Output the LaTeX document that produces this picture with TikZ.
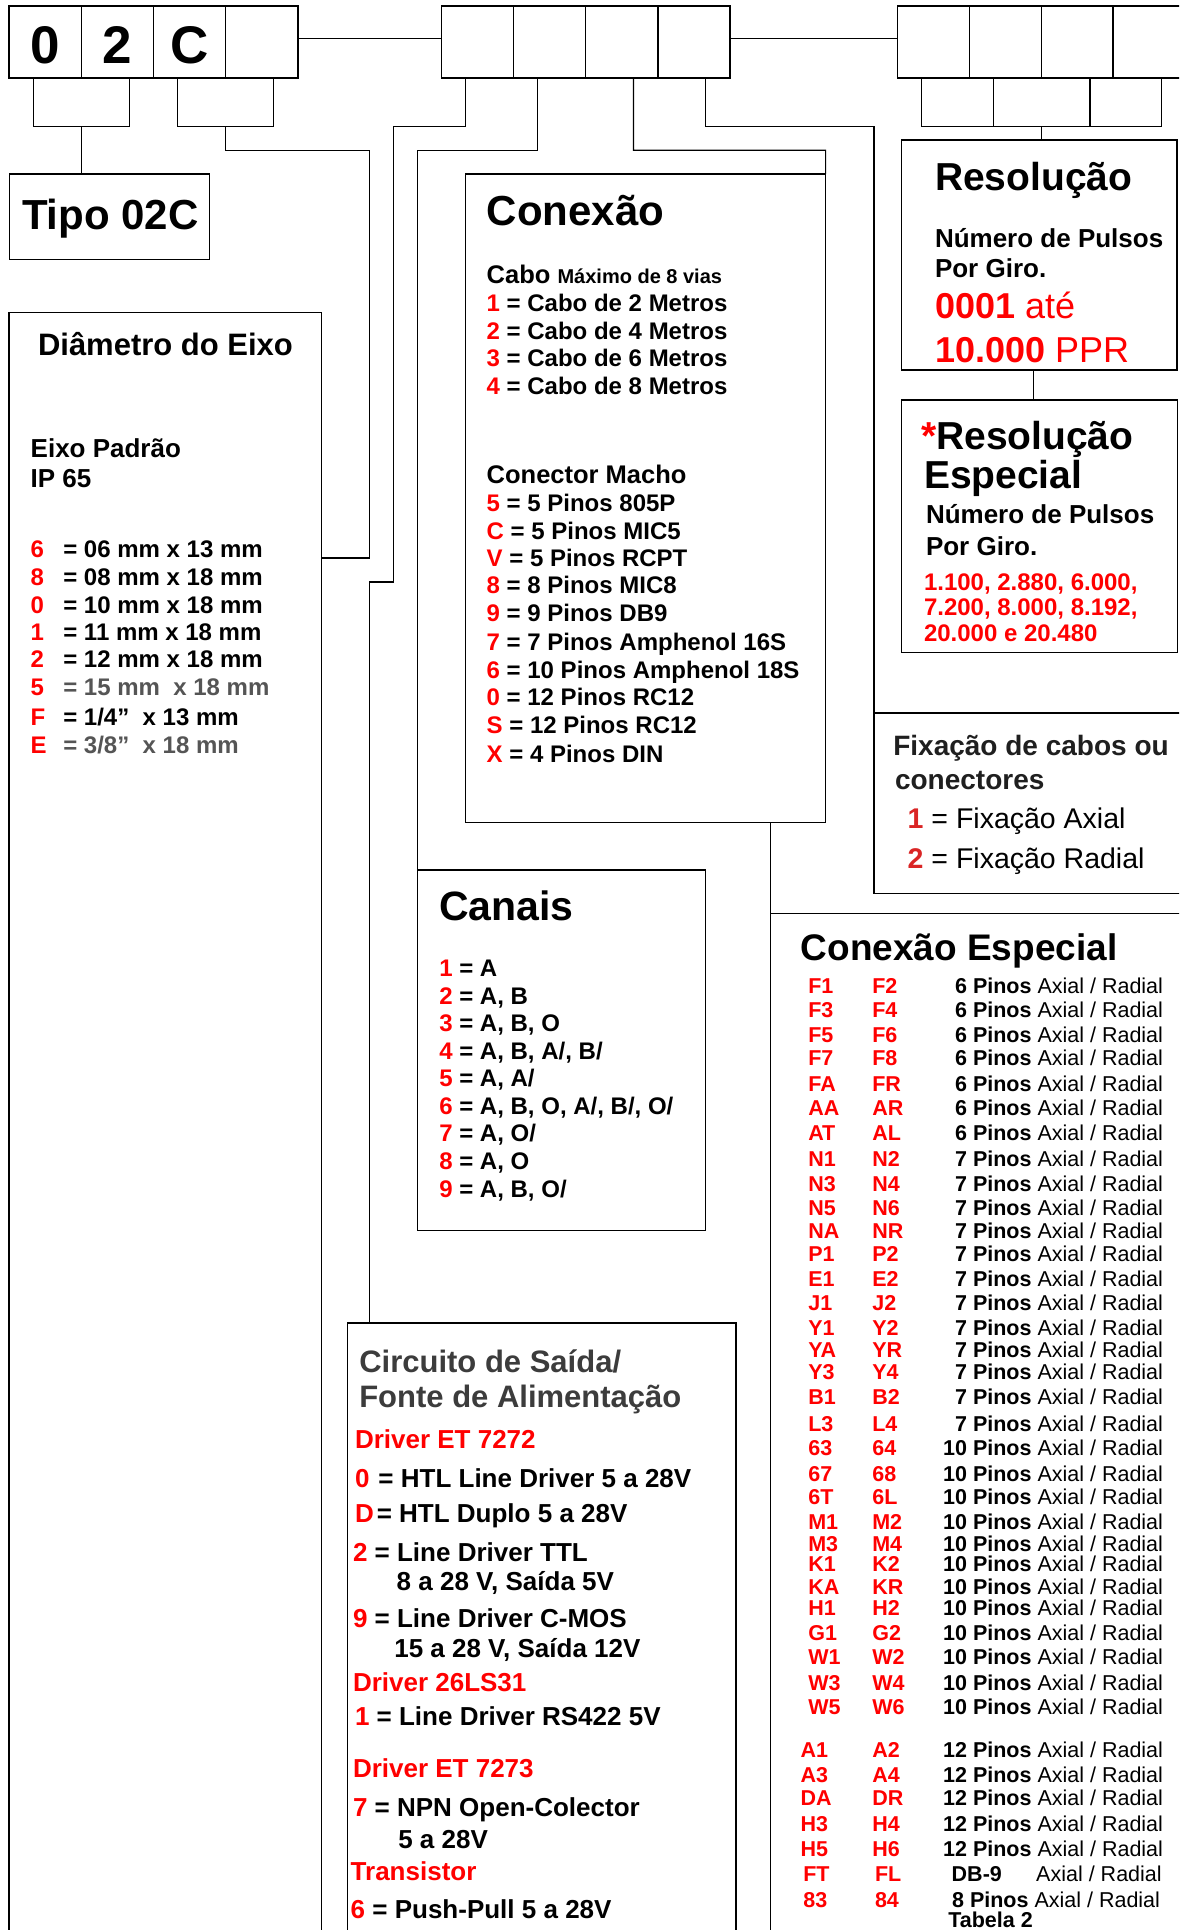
\documentclass[tikz,border=0pt]{standalone}
\usepackage{fontspec}
\setmainfont{Liberation Sans}
\usetikzlibrary{calc}
\definecolor{red0}{RGB}{255,0,0}
\definecolor{fixred}{RGB}{218,37,37}
\definecolor{headgray}{RGB}{60,60,60}
\definecolor{midgray}{RGB}{85,85,85}
\newcommand\fsz[1]{\fontsize{#1}{#1}\selectfont}
\begin{document}
\begin{tikzpicture}[x=1pt,y=-1pt,
  box/.style={draw, line width=1.4pt, inner sep=0pt, outer sep=0pt, anchor=north west},
  cell/.style={box, minimum width=72.2pt, minimum height=72pt},
  wire/.style={line width=1.2pt},
  t/.style={anchor=base west, inner sep=0pt, outer sep=0pt},
  te/.style={anchor=base east, inner sep=0pt, outer sep=0pt},
  digit/.style={anchor=base, inner sep=0pt, font=\fsz{53}\bfseries},
  row/.style={t, font=\fsz{24}\bfseries},
  crow/.style={t, font=\fsz{26}\bfseries},
  srow/.style={t, font=\fsz{21.5}\bfseries, text=red0}]
\clip (0,0) rectangle (1179,1930);
\fill[white] (0,0) rectangle (1179,1930);

% ---------- top code cells ----------
\node[cell] (g1a) at (9,6) {};
\node[cell] (g1b) at (81.2,6) {};
\node[cell] (g1c) at (153.4,6) {};
\node[cell] (g1d) at (225.6,6) {};
\node[digit] (d0) at (45.1,63) {0};
\node[digit] (d2) at (117.3,63) {2};
\node[digit] (dC) at (190,63) {C};

\node[cell] (g2a) at (441.3,6) {};
\node[cell] (g2b) at (513.5,6) {};
\node[cell] (g2c) at (585.7,6) {};
\node[cell] (g2d) at (657.9,6) {};

\node[cell, minimum width=71.9pt] (g3a) at (897.4,6) {};
\node[cell, minimum width=71.9pt] (g3b) at (969.3,6) {};
\node[cell, minimum width=71.9pt] (g3c) at (1041.2,6) {};
\node[cell, minimum width=71.9pt] (g3d) at (1113.1,6) {};

% ---------- boxes ----------
\node[box, minimum width=200.5pt, minimum height=85.3pt] (tipo) at (9.2,174) {};
\node[box, minimum width=312.7pt, minimum height=1700pt] (diam) at (9,312.3) {};
\node[box, minimum width=359.9pt, minimum height=648.7pt] (conex) at (465.7,174) {};
\node[box, minimum width=287.8pt, minimum height=360.5pt] (canais) at (417.5,870) {};
\node[box, minimum width=388.5pt, minimum height=700pt] (circ) at (347.5,1322.9) {};
\node[box, minimum width=275.4pt, minimum height=230pt] (resol) at (901.6,140) {};
\node[box, minimum width=276.4pt, minimum height=252.7pt] (resesp) at (901.3,400) {};
\node[box, minimum width=400pt, minimum height=180.5pt] (fix) at (874,713) {};
\node[box, minimum width=500pt, minimum height=1100pt] (conesp) at (770.3,913.3) {};

% ---------- connectors ----------
\draw[wire] ($(g1d.east)+(0,-3.7)$) -- ($(g2a.west)+(0,-3.7)$);
\draw[wire] ($(g2d.east)+(0,-3.7)$) -- ($(g3a.west)+(0,-3.7)$);

\coordinate (a1) at (33.3,78); \coordinate (a2) at (129.4,78); \coordinate (a3) at (81.5,126.7);
\draw[wire] (a1) |- (a2 |- a3) -- (a2);
\draw[wire] (a3) -- (a3 |- tipo.north);

\coordinate (b1) at (177.2,78); \coordinate (b2) at (273.6,78); \coordinate (b3) at (225.8,126.7);
\coordinate (b4) at (369.5,150.3); \coordinate (b5) at (369.5,558);
\draw[wire] (b1) |- (b2 |- b3) -- (b2);
\draw[wire] (b3) |- (b4) -- (b5) -- (b5 -| diam.east);

\coordinate (c1) at (465.7,78); \coordinate (c2) at (393.8,126.7); \coordinate (c3) at (369.3,582);
\draw[wire] (c1) |- (c2) |- (c3) -- (c3 |- circ.north);

\coordinate (e1) at (537.7,78); \coordinate (e2) at (417.5,150.3);
\draw[wire] (e1) |- (e2) -- (canais.north west);

\coordinate (f1) at (633.5,78); \coordinate (f2) at (825.6,150.3);
\draw[wire] (f1) |- (f2) -- (conex.north east);

\coordinate (h1) at (705.3,78); \coordinate (h2) at (874,126.7);
\draw[wire] (h1) |- (h2) -- (fix.north west);

\draw[wire] (conex.south -| conesp.north west) -- (conesp.north west);

\coordinate (k1) at (921.5,78); \coordinate (k2) at (993.3,78);
\coordinate (k3) at (1090,78); \coordinate (k4) at (1161.7,78);
\coordinate (km) at (1041.8,126.7);
\draw[wire] (k1) |- (k4 |- km) -- (k4);
\draw[wire] (k2) -- (k2 |- km);
\draw[wire] (k3) -- (k3 |- km);
\draw[wire] (km) -- (km |- resol.north);
\coordinate (r1) at (1033.8,370);
\draw[wire] (r1) -- (r1 |- resesp.north);

% ---------- Tipo ----------
\node[t, font=\fsz{42}\bfseries] (tipotxt) at (22,229) {Tipo 02C};

% ---------- Diametro ----------
\node[t, font=\fsz{31}\bfseries] (diamh) at (38,355) {Diâmetro do Eixo};
\node[t, font=\fsz{26}\bfseries] (eixo1) at (30.7,457.7) {Eixo Padrão};
\node[t, font=\fsz{26}\bfseries] (eixo2) at (30.7,487.7) {IP 65};
\foreach \c/\txt/\col/\y [count=\i] in {
  6/{= 06 mm x 13 mm}/black/557.3,
  8/{= 08 mm x 18 mm}/black/585,
  0/{= 10 mm x 18 mm}/black/613.3,
  1/{= 11 mm x 18 mm}/black/640,
  2/{= 12 mm x 18 mm}/black/667.7,
  5/{= 15 mm \ x 18 mm}/midgray/695.7,
  F/{= 1/4”\ \ x 13 mm}/black/725,
  E/{= 3/8”\ \ x 18 mm}/midgray/753.3}{
  \node[row, text=red0] (shc\i) at (30.7,\y) {\c};
  \node[row, text=\col] (sht\i) at (63.3,\y) {\txt};
}

% ---------- Conexao ----------
\node[t, font=\fsz{42}\bfseries] (conh) at (486.7,225) {Conexão};
\node[t, font=\fsz{25.5}\bfseries] (cabo) at (486.7,283.6) {Cabo {\fsz{20}Máximo de 8 vias}};
\foreach \c/\txt/\y [count=\i] in {1/Cabo de 2 Metros/311.8, 2/Cabo de 4 Metros/339,
  3/Cabo de 6 Metros/366.9, 4/Cabo de 8 Metros/394.2}{
  \node[row] (cab\i) at (486.7,\y) {\textcolor{red0}{\c} = \txt};
}
\node[t, font=\fsz{25.5}\bfseries] (conm) at (486.7,483) {Conector Macho};
\foreach \c/\txt/\y [count=\i] in {5/5 Pinos 805P/511.3, C/5 Pinos MIC5/539.4,
  V/5 Pinos RCPT/566.3, 8/8 Pinos MIC8/593.6, 9/9 Pinos DB9/621,
  7/7 Pinos Amphenol 16S/650, 6/10 Pinos Amphenol 18S/678.2,
  0/12 Pinos RC12/705.5, S/12 Pinos RC12/733.3, X/4 Pinos DIN/762}{
  \node[row] (cm\i) at (486.7,\y) {\textcolor{red0}{\c} = \txt};
}

% ---------- Canais ----------
\node[t, font=\fsz{41}\bfseries] (canh) at (439.3,920.7) {Canais};
\foreach \c/\txt/\y [count=\i] in {1/{A}/976.7, 2/{A, B}/1004.3, 3/{A, B, O}/1031.7,
  4/{A, B, A/, B/}/1059, 5/{A, A/}/1086.7, 6/{A, B, O, A/, B/, O/}/1114.3,
  7/{A, O/}/1141.7, 8/{A, O}/1169.3, 9/{A, B, O/}/1197.3}{
  \node[row] (can\i) at (439.3,\y) {\textcolor{red0}{\c} = \txt};
}

% ---------- Circuito ----------
\node[t, font=\fsz{31}\bfseries, text=headgray] (cih1) at (359.3,1372.3) {Circuito de Saída/};
\node[t, font=\fsz{31}\bfseries, text=headgray] (cih2) at (359.3,1407.7) {Fonte de Alimentação};
\node[crow, text=red0] (ci1) at (355,1448.7) {Driver ET 7272};
\node[crow] (ci2) at (355,1487.6) {\textcolor{red0}{0}\hspace{9pt}= HTL Line Driver 5 a 28V};
\node[crow] (ci3) at (355,1522.2) {\textcolor{red0}{D}\hspace{3pt}= HTL Duplo 5 a 28V};
\node[crow] (ci4) at (353,1561.1) {\textcolor{red0}{2} = Line Driver TTL};
\node[crow] (ci5) at (396.7,1590) {8 a 28 V, Saída 5V};
\node[crow] (ci6) at (353,1627.4) {\textcolor{red0}{9} = Line Driver C-MOS};
\node[crow] (ci7) at (394.3,1657.6) {15 a 28 V, Saída 12V};
\node[crow, text=red0] (ci8) at (353,1691.7) {Driver 26LS31};
\node[crow] (ci9) at (355,1725) {\textcolor{red0}{1} = Line Driver RS422 5V};
\node[crow, text=red0] (ci10) at (353,1777.3) {Driver ET 7273};
\node[crow] (ci11) at (353,1816.3) {\textcolor{red0}{7} = NPN Open-Colector};
\node[crow] (ci12) at (398.3,1848.4) {5 a 28V};
\node[crow, text=red0] (ci13) at (350.7,1880.5) {Transistor};
\node[crow] (ci14) at (350.7,1918.7) {\textcolor{red0}{6} = Push-Pull 5 a 28V};

% ---------- Resolucao ----------
\node[t, font=\fsz{39}\bfseries] (resh) at (935,190) {Resolução};
\node[t, font=\fsz{26}\bfseries] (res1) at (935,247.3) {Número de Pulsos};
\node[t, font=\fsz{26}\bfseries] (res2) at (935,277.3) {Por Giro.};
\node[t, font=\fsz{36}, text=red0] (res3) at (935,318.3) {\textbf{0001} até};
\node[t, font=\fsz{36}, text=red0] (res4) at (935,362.7) {\textbf{10.000} PPR};

% ---------- Resolucao Especial ----------
\node[t, font=\fsz{39}\bfseries] (rese1) at (921,449) {\textcolor{red0}{*}Resolução};
\node[t, font=\fsz{39}\bfseries] (rese2) at (924,488.3) {Especial};
\node[t, font=\fsz{26}\bfseries] (rese3) at (926,523) {Número de Pulsos};
\node[t, font=\fsz{26}\bfseries] (rese4) at (926,555.7) {Por Giro.};
\node[row, text=red0] (rese5) at (924,590) {1.100, 2.880, 6.000,};
\node[row, text=red0] (rese6) at (924,615.7) {7.200, 8.000, 8.192,};
\node[row, text=red0] (rese7) at (924,641.7) {20.000 e 20.480};

% ---------- Fixacao ----------
\node[t, font=\fsz{28}\bfseries, text=black!88] (fx1) at (893.3,755) {Fixação de cabos ou};
\node[t, font=\fsz{28}\bfseries, text=black!88] (fx2) at (895,789.3) {conectores};
\node[t, font=\fsz{28.5}] (fx3) at (907.7,828.3) {\textcolor{fixred}{\bfseries 1} = Fixação Axial};
\node[t, font=\fsz{28.5}] (fx4) at (907.7,868.3) {\textcolor{fixred}{\bfseries 2} = Fixação Radial};

% ---------- Conexao Especial ----------
\node[t, font=\fsz{37}\bfseries] (ceh) at (800.7,960.4) {Conexão Especial};
\foreach \a/\b/\n/\y [count=\i] in {
  F1/F2/6/993.5, F3/F4/6/1017, F5/F6/6/1042, F7/F8/6/1065.8, FA/FR/6/1091.4,
  AA/AR/6/1115.6, AT/AL/6/1140.5, N1/N2/7/1166.3, N3/N4/7/1191.2, N5/N6/7/1215,
  NA/NR/7/1238.3, P1/P2/7/1261.5, E1/E2/7/1286.4, J1/J2/7/1310.6, Y1/Y2/7/1335.2,
  YA/YR/7/1357, Y3/Y4/7/1379.3, B1/B2/7/1404, L3/L4/7/1431.1,
  63/64/10/1455.8, 67/68/10/1481.1, 6T/6L/10/1504.8, M1/M2/10/1529.1,
  M3/M4/10/1551.1, K1/K2/10/1571.7, KA/KR/10/1594.4, H1/H2/10/1615.7,
  G1/G2/10/1640, W1/W2/10/1664.7, W3/W4/10/1690, W5/W6/10/1714.4}{
  \node[srow] (cea\i) at (808.3,\y) {\a};
  \node[srow] (ceb\i) at (872.3,\y) {\b};
  \node[te, font=\fsz{21.5}] (ced\i) at (1163,\y) {\textbf{\n\ Pinos} Axial / Radial};
}
\foreach \a/\b/\y [count=\i] in {A1/A2/1757.3, A3/A4/1782, DA/DR/1805.7, H3/H4/1831, H5/H6/1856.4}{
  \node[srow] (cfa\i) at (800.7,\y) {\a};
  \node[srow] (cfb\i) at (872.3,\y) {\b};
  \node[te, font=\fsz{21.5}] (cfd\i) at (1163,\y) {\textbf{12 Pinos} Axial / Radial};
}
\node[srow] (cga) at (803.3,1881.7) {FT};
\node[srow] (cgb) at (875,1881.7) {FL};
\node[t, font=\fsz{21.5}\bfseries] (cgc) at (951.7,1881.7) {DB-9};
\node[te, font=\fsz{21.5}] (cgd) at (1161.7,1881.7) {Axial / Radial};
\node[srow] (cha) at (803.3,1907.8) {83};
\node[srow] (chb) at (875,1907.8) {84};
\node[te, font=\fsz{21.5}] (chd) at (1160,1907.8) {\textbf{8 Pinos} Axial / Radial};
\node[t, font=\fsz{21.5}\bfseries] (tab) at (948.3,1927.5) {Tabela 2};
\end{tikzpicture}
\end{document}
